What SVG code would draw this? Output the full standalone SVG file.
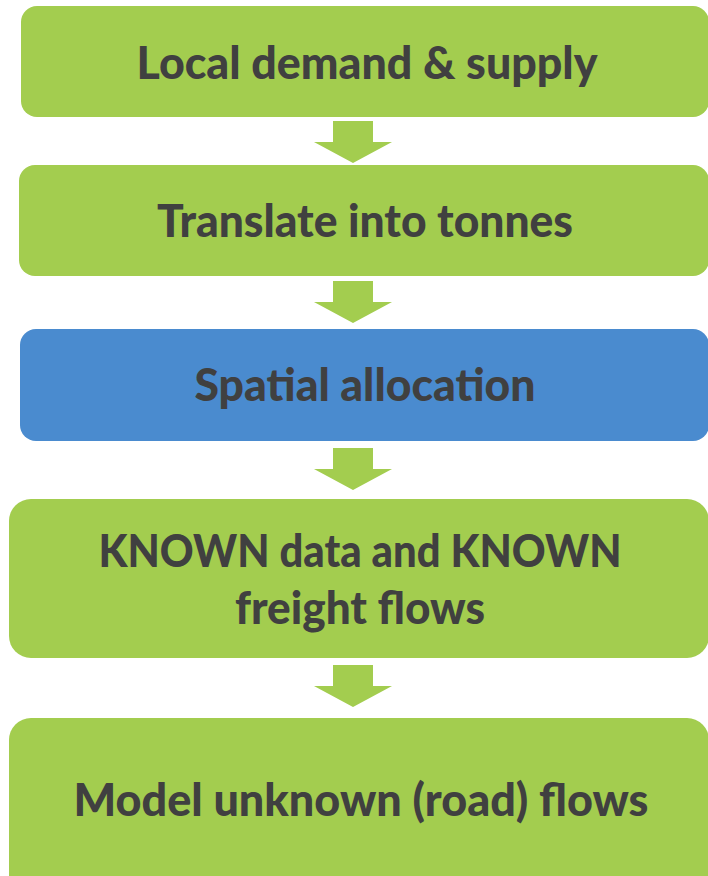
<svg xmlns="http://www.w3.org/2000/svg" width="708" height="876" viewBox="0 0 708 876">
  <style>
    .green { fill: #A3CD4F; }
    .blue { fill: #4A8BCF; }
    .label { font-family: Lato, "Open Sans", "Liberation Sans", sans-serif; font-weight: 900; font-size: 45px; fill: #404040; text-anchor: middle; }
    .arrow { fill: #A3CD4F; }
  </style>
  <defs>
    <!-- block arrow pointing down, origin at top centre of shaft -->
    <path id="down" d="M-20 0 H20 V21 H39 L0 42 L-39 21 H-20 Z"/>
  </defs>
  <rect width="708" height="876" fill="#FFFFFF"/>

  <g id="connectors">
    <use href="#down" class="arrow" x="353" y="121"/>
    <use href="#down" class="arrow" x="353" y="281"/>
    <use href="#down" class="arrow" x="353" y="448"/>
    <use href="#down" class="arrow" x="353" y="665"/>
  </g>

  <g id="local-demand">
    <rect class="green" x="21" y="6" width="688" height="111" rx="16"/>
    <text class="label" x="367" y="79" textLength="461" lengthAdjust="spacingAndGlyphs">Local demand &amp; supply</text>
  </g>

  <g id="translate">
    <rect class="green" x="19" y="165" width="690" height="111" rx="16"/>
    <text class="label" x="365" y="237" textLength="416" lengthAdjust="spacingAndGlyphs">Translate into tonnes</text>
  </g>

  <g id="spatial">
    <rect class="blue" x="20" y="329" width="689" height="112" rx="16"/>
    <text class="label" x="365" y="401" textLength="341" lengthAdjust="spacingAndGlyphs">Spatial allocation</text>
  </g>

  <g id="known">
    <rect class="green" x="9" y="499" width="700" height="159" rx="22"/>
    <text class="label" x="360" y="567" textLength="523" lengthAdjust="spacingAndGlyphs">KNOWN data and KNOWN</text>
    <text class="label" x="360" y="624" textLength="250" lengthAdjust="spacingAndGlyphs">freight flows</text>
  </g>

  <g id="model">
    <rect class="green" x="9" y="718" width="700" height="180" rx="22"/>
    <text class="label" x="361" y="816" textLength="575" lengthAdjust="spacingAndGlyphs">Model unknown (road) flows</text>
  </g>
</svg>
